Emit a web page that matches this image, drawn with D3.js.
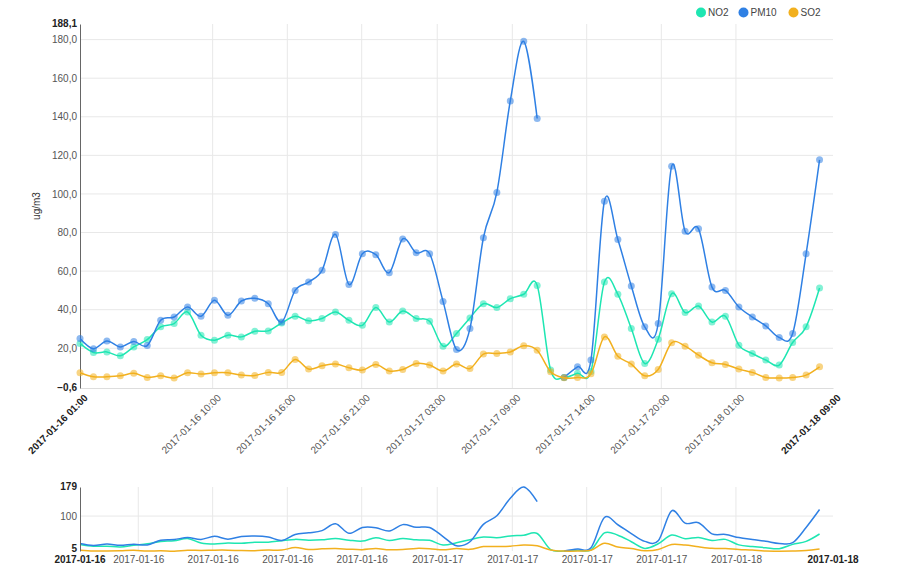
<!DOCTYPE html>
<html>
<head>
<meta charset="utf-8">
<script src="https://cdn.jsdelivr.net/npm/d3@7"></script>
<style>
  body { margin: 0; background: #fff; }
  svg { font-family: "Liberation Sans", Arial, sans-serif; }
  .grid line { stroke: #e8e8e8; stroke-width: 1; }
  .axis text { fill: #555; font-size: 10px; }
  .bold { font-weight: bold; fill: #222; font-size: 10px; }
</style>
</head>
<body>
<svg id="chart" width="900" height="568"></svg>
<script>
// hourly measurement times
var times = [
  "2017-01-16 01:00","2017-01-16 02:00","2017-01-16 03:00","2017-01-16 04:00","2017-01-16 05:00","2017-01-16 06:00","2017-01-16 07:00","2017-01-16 08:00",
  "2017-01-16 09:00","2017-01-16 10:00","2017-01-16 11:00","2017-01-16 12:00","2017-01-16 13:00","2017-01-16 14:00","2017-01-16 15:00","2017-01-16 16:00",
  "2017-01-16 17:00","2017-01-16 18:00","2017-01-16 19:00","2017-01-16 20:00","2017-01-16 21:00","2017-01-16 22:00","2017-01-16 23:00",
  "2017-01-17 00:00","2017-01-17 01:00","2017-01-17 02:00","2017-01-17 03:00","2017-01-17 04:00","2017-01-17 05:00","2017-01-17 06:00","2017-01-17 07:00",
  "2017-01-17 08:00","2017-01-17 09:00","2017-01-17 10:00","2017-01-17 11:00","2017-01-17 12:00","2017-01-17 13:00","2017-01-17 14:00","2017-01-17 15:00",
  "2017-01-17 16:00","2017-01-17 17:00","2017-01-17 18:00","2017-01-17 19:00","2017-01-17 20:00","2017-01-17 21:00","2017-01-17 22:00","2017-01-17 23:00",
  "2017-01-18 00:00","2017-01-18 01:00","2017-01-18 02:00","2017-01-18 03:00","2017-01-18 04:00","2017-01-18 05:00","2017-01-18 06:00","2017-01-18 07:00",
  "2017-01-18 08:00"
];

var no2 = [22.5,17.8,18.1,16.1,20.7,24.5,31.1,32.8,38.8,26.8,
           24.2,26.8,25.9,28.8,29.0,33.1,36.6,34.2,35.4,38.8,
           34.5,31.9,41.1,33.6,39.3,35.4,34.0,21.1,27.6,35.7,
           43.1,41.1,45.7,48.0,52.6,8.7,4.9,7.0,8.0,54.3,
           48.0,30.2,12.1,24.7,48.3,38.5,41.9,33.6,36.6,21.6,
           17.3,13.9,11.3,23.0,31.1,51.2];

var pm10 = [25.1,19.8,23.8,20.7,23.5,21.4,34.5,36.2,41.4,36.6,
            44.9,37.1,44.5,45.9,43.1,33.6,50.0,54.3,60.4,79.0,
            53.1,69.0,68.5,59.2,76.7,69.5,69.0,44.3,19.4,30.2,
            77.3,100.8,148.2,179.1,139.1,null,4.9,10.4,13.9,96.2,
            76.4,52.3,31.1,32.8,114.3,80.7,81.9,51.7,50.0,41.4,
            36.2,31.6,25.6,27.6,69.0,117.7];

var so2 = [7.3,5.2,5.2,5.7,7.0,4.9,5.7,4.6,7.3,6.6,
           7.3,7.3,6.1,5.9,7.5,7.5,14.2,9.2,10.9,11.8,
           9.9,8.7,11.6,8.2,9.0,12.1,11.3,8.2,11.8,9.5,
           17.0,17.3,18.1,21.3,19.0,7.8,4.7,4.8,6.8,25.9,
           15.9,11.8,5.7,9.0,22.8,21.1,16.4,12.5,11.6,9.2,
           7.5,4.9,4.6,4.9,6.1,10.4];

var seriesNames = ["NO2", "PM10", "SO2"];
var seriesColors = ["#1ee6b2", "#2f80e4", "#f2b01e"];

// axis extents and ticks
var xDomain = ["2017-01-16 01:00", "2017-01-18 09:00"];
var yDomain = [-0.6, 188.1];
var yTicks = [20, 40, 60, 80, 100, 120, 140, 160, 180];
var mainTicks = ["2017-01-16 10:52","2017-01-16 16:25","2017-01-16 21:57","2017-01-17 03:34",
                 "2017-01-17 09:09","2017-01-17 14:41","2017-01-17 20:14","2017-01-18 01:47"];
var subDomain = [5, 179];
var subYTicks = [100];
var subTicks = ["2017-01-16 05:20","2017-01-16 10:52","2017-01-16 16:25","2017-01-16 21:57","2017-01-17 03:34",
                "2017-01-17 09:09","2017-01-17 14:41","2017-01-17 20:14","2017-01-18 01:47"];

var parse = d3.timeParse("%Y-%m-%d %H:%M");
var locale = d3.formatLocale({decimal: ",", thousands: ".", grouping: [3], currency: ["", ""]});
var fmt = locale.format(".1f");

var svg = d3.select("#chart");

var left = 80, right = 833;
var main = {top: 24, bottom: 388};
var sub = {top: 487, bottom: 551};

var x = d3.scaleTime().domain(xDomain.map(parse)).range([left, right]);
var y = d3.scaleLinear().domain(yDomain).range([main.bottom, main.top]);
var y2 = d3.scaleLinear().domain(subDomain).range([sub.bottom, sub.top]);

var series = [no2, pm10, so2].map(function(vals, k) {
  return {
    name: seriesNames[k],
    color: seriesColors[k],
    values: vals.map(function(v, i) { return {t: parse(times[i]), v: v}; })
  };
});

// ---------- main chart ----------
var grid = svg.append("g").attr("class", "grid");
grid.selectAll(".vx").data(mainTicks.map(parse)).enter().append("line")
  .attr("x1", function(d) { return x(d); }).attr("x2", function(d) { return x(d); })
  .attr("y1", main.top).attr("y2", main.bottom);
grid.selectAll(".hy").data(yTicks).enter().append("line")
  .attr("x1", left).attr("x2", right)
  .attr("y1", function(d) { return y(d); }).attr("y2", function(d) { return y(d); });

// x axis
var xAxis = svg.append("g").attr("class", "axis")
  .attr("transform", "translate(0," + main.bottom + ")")
  .call(d3.axisBottom(x).tickValues(mainTicks.map(parse)).tickSize(0)
    .tickFormat(d3.timeFormat("%Y-%m-%d %H:00")));
xAxis.select(".domain").attr("stroke", "#ddd");
xAxis.selectAll("text")
  .attr("x", 0).attr("y", 0).attr("dy", "0.35em")
  .attr("text-anchor", "end")
  .attr("transform", "translate(6,8) rotate(-45)");

x.domain().forEach(function(d) {
  svg.append("text").attr("class", "bold")
    .attr("text-anchor", "end").attr("dy", "0.35em")
    .attr("transform", "translate(" + (x(d) + 6) + "," + (main.bottom + 8) + ") rotate(-45)")
    .text(d3.timeFormat("%Y-%m-%d %H:%M")(d));
});

// y axis
var yAxis = svg.append("g").attr("class", "axis")
  .attr("transform", "translate(" + left + ",0)")
  .call(d3.axisLeft(y).tickValues(yTicks).tickSize(0).tickSizeOuter(0).tickPadding(3).tickFormat(fmt));
yAxis.select(".domain").attr("stroke", "#666");

y.domain().forEach(function(d) {
  svg.append("text").attr("class", "bold")
    .attr("x", left - 3).attr("y", y(d)).attr("dy", "0.32em")
    .attr("text-anchor", "end")
    .text(fmt(d));
});

svg.append("text")
  .attr("transform", "translate(40," + ((main.top + main.bottom) / 2) + ") rotate(-90)")
  .attr("text-anchor", "middle")
  .style("font-size", "10px").style("fill", "#333")
  .text("ug/m3");

var line = d3.line()
  .defined(function(d) { return d.v != null; })
  .x(function(d) { return x(d.t); })
  .y(function(d) { return y(d.v); })
  .curve(d3.curveCardinal);

var sg = svg.append("g").selectAll("g").data(series).enter().append("g");
sg.append("path")
  .attr("fill", "none")
  .attr("stroke", function(d) { return d.color; })
  .attr("stroke-width", 1.5)
  .attr("d", function(d) { return line(d.values); });
sg.selectAll("circle")
  .data(function(d) { return d.values.filter(function(p) { return p.v != null; }).map(function(p) { p.color = d.color; return p; }); })
  .enter().append("circle")
  .attr("cx", function(d) { return x(d.t); })
  .attr("cy", function(d) { return y(d.v); })
  .attr("r", 3.5)
  .attr("fill", function(d) { return d.color; })
  .attr("fill-opacity", 0.55);

// ---------- sub chart ----------
var grid2 = svg.append("g").attr("class", "grid");
grid2.selectAll(".vx").data(subTicks.map(parse)).enter().append("line")
  .attr("x1", function(d) { return x(d); }).attr("x2", function(d) { return x(d); })
  .attr("y1", sub.top).attr("y2", sub.bottom);
grid2.selectAll(".hy").data(subYTicks).enter().append("line")
  .attr("x1", left).attr("x2", right)
  .attr("y1", function(d) { return y2(d); }).attr("y2", function(d) { return y2(d); });

var line2 = d3.line()
  .defined(function(d) { return d.v != null; })
  .x(function(d) { return x(d.t); })
  .y(function(d) { return y2(d.v); })
  .curve(d3.curveCardinal);

svg.append("g").selectAll("path").data(series).enter().append("path")
  .attr("fill", "none")
  .attr("stroke", function(d) { return d.color; })
  .attr("stroke-width", 1.5)
  .attr("d", function(d) { return line2(d.values); });

var xAxis2 = svg.append("g").attr("class", "axis")
  .attr("transform", "translate(0," + sub.bottom + ")")
  .call(d3.axisBottom(x).tickValues(subTicks.map(parse)).tickSize(0).tickPadding(5)
    .tickFormat(d3.timeFormat("%Y-%m-%d")));
xAxis2.select(".domain").remove();

x.domain().forEach(function(d) {
  svg.append("text").attr("class", "bold")
    .attr("x", x(d)).attr("y", sub.bottom + 5).attr("dy", "0.71em")
    .attr("text-anchor", "middle")
    .text(d3.timeFormat("%Y-%m-%d")(d));
});

var yAxis2 = svg.append("g").attr("class", "axis")
  .attr("transform", "translate(" + left + ",0)")
  .call(d3.axisLeft(y2).tickValues(subYTicks).tickSize(0).tickSizeOuter(0).tickPadding(3));
yAxis2.select(".domain").attr("stroke", "#666");

y2.domain().forEach(function(d, i) {
  svg.append("text").attr("class", "bold")
    .attr("x", left - 3).attr("y", y2(d)).attr("dy", i === 0 ? "0.1em" : "0.32em")
    .attr("text-anchor", "end")
    .text(d);
});

// ---------- legend ----------
var legendX = [701, 743.5, 793.5];
var lg = svg.append("g").selectAll("g").data(series).enter().append("g")
  .attr("transform", function(d, i) { return "translate(" + legendX[i] + ",12.5)"; });
lg.append("circle").attr("r", 5).attr("fill", function(d) { return d.color; });
lg.append("text").attr("x", 7).attr("dy", "0.35em")
  .style("font-size", "10px").style("fill", "#444")
  .text(function(d) { return d.name; });
</script>
</body>
</html>
